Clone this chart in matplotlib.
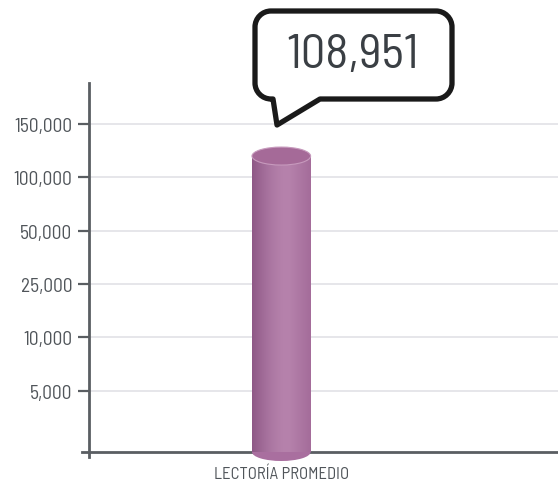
import numpy as np
import matplotlib
matplotlib.use("Agg")
import matplotlib.pyplot as plt
from matplotlib.path import Path
from matplotlib.patches import PathPatch, Ellipse

# data
categories = ["LECTORÍA PROMEDIO"]
value_labels = ["108,951"]
bar_heights = [120000]  # top of cylinder as drawn in the picture
tick_values = [5000, 10000, 25000, 50000, 100000, 150000]
tick_labels = ["5,000", "10,000", "25,000", "50,000", "100,000", "150,000"]

plt.rcParams["font.family"] = ["Barlow Semi Condensed", "DejaVu Sans"]

W, H = 558, 485
fig = plt.figure(figsize=(W / 100, H / 100), dpi=100)
ax = fig.add_axes([89 / W, 1 - 453 / H, 1 - 89 / W, (453 - 84) / H])

# the axis is evenly spaced by tick, not linear
scale_vals = [0] + tick_values + [200000]
scale_pos = [0.0] + [1.15 + i for i in range(len(tick_values) + 1)]


def to_pos(v):
    return np.interp(v, scale_vals, scale_pos)


YTOP = 6.92
XL = (-0.82, 1.18)
ax.set_xlim(*XL)
ax.set_ylim(0, YTOP)
ypx = (453 - 84) / YTOP  # pixels per unit
xpx = (W - 89) / (XL[1] - XL[0])

ax.set_yticks([to_pos(v) for v in tick_values])
ax.set_yticklabels(tick_labels)
ax.set_xticks(range(len(categories)))
ax.set_xticklabels(categories)
ax.tick_params(axis="y", length=8, width=1.6, color="#5a5e62", labelsize=14,
               labelcolor="#50555a", pad=4)
ax.tick_params(axis="x", length=0, labelsize=12, labelcolor="#50555a", pad=10)
ax.grid(axis="y", color="#e4e4e8", lw=1.3)
ax.set_axisbelow(True)
for s in ["top", "right"]:
    ax.spines[s].set_visible(False)
for s in ["left", "bottom"]:
    ax.spines[s].set_color("#5a5e62")
    ax.spines[s].set_linewidth(2)
    ax.spines[s].set_zorder(1)
ax.spines["left"].set_bounds(-5 / ypx, YTOP)
ax.spines["bottom"].set_bounds(XL[0] - 7 / xpx, XL[1])

# cylinder
bw = 0.25
eh = 18 / ypx
for i, h in enumerate(bar_heights):
    top = to_pos(h)
    x0, x1 = i - bw / 2, i + bw / 2
    verts = [(x0, top), (x0, 0), (x1, 0), (x1, top), (x0, top)]
    body = Path(verts, [Path.MOVETO] + [Path.LINETO] * 3 + [Path.CLOSEPOLY])
    clip = PathPatch(body, transform=ax.transData, facecolor="none", edgecolor="none")
    ax.add_patch(clip)
    bot = Ellipse((i, 0), bw, eh, facecolor="#a96f9f", edgecolor="none", zorder=2,
                  clip_on=False)
    ax.add_patch(bot)
    t = np.linspace(0, 1, 200)
    c0 = np.array([0x8e, 0x58, 0x86]) / 255
    c1 = np.array([0xb6, 0x82, 0xac]) / 255
    c2 = np.array([0xa4, 0x6c, 0x9a]) / 255
    prof = np.where(t < 0.62, np.sin(t / 0.62 * np.pi / 2), 1 - (t - 0.62) / 0.38)
    cols = np.where(t[:, None] < 0.62,
                    c0 + (c1 - c0) * prof[:, None],
                    c2 + (c1 - c2) * prof[:, None])
    img = ax.imshow(cols[None, :, :], extent=(x0, x1, 0, top), aspect="auto",
                    zorder=2.1, interpolation="bilinear")
    img.set_clip_path(clip)
    ax.add_patch(Ellipse((i, top), bw, eh, facecolor="#a56a98",
                         edgecolor="#c79abd", lw=0.8, zorder=2.2))
ax.set_xlim(*XL)
ax.set_ylim(0, YTOP)

# callout bubble (pixel coords, top-left origin)
L, R, T, B, r = 255, 452, 12, 100, 16
k = 0.5523 * r
pts = [(L + r, T), (R - r, T),
       (R - r + k, T), (R, T + r - k), (R, T + r),
       (R, B - r),
       (R, B - r + k), (R - r + k, B), (R - r, B),
       (320, B), (277, 126), (273, B),
       (L + r, B),
       (L + r - k, B), (L, B - r + k), (L, B - r),
       (L, T + r),
       (L, T + r - k), (L + r - k, T), (L + r, T),
       (L + r, T)]
codes = [Path.MOVETO, Path.LINETO,
         Path.CURVE4, Path.CURVE4, Path.CURVE4,
         Path.LINETO,
         Path.CURVE4, Path.CURVE4, Path.CURVE4,
         Path.LINETO, Path.LINETO, Path.LINETO,
         Path.LINETO,
         Path.CURVE4, Path.CURVE4, Path.CURVE4,
         Path.LINETO,
         Path.CURVE4, Path.CURVE4, Path.CURVE4,
         Path.CLOSEPOLY]
pts = [(x / W, 1 - y / H) for x, y in pts]
fig.patches.append(PathPatch(Path(pts, codes), transform=fig.transFigure,
                             facecolor="white", edgecolor="#1a1a1a", lw=3.8,
                             joinstyle="round"))
fig.text(353 / W, 1 - 56 / H, value_labels[0], ha="center", va="center",
         fontsize=35, color="#3a3f44")

fig.savefig("out.png", dpi=100)
